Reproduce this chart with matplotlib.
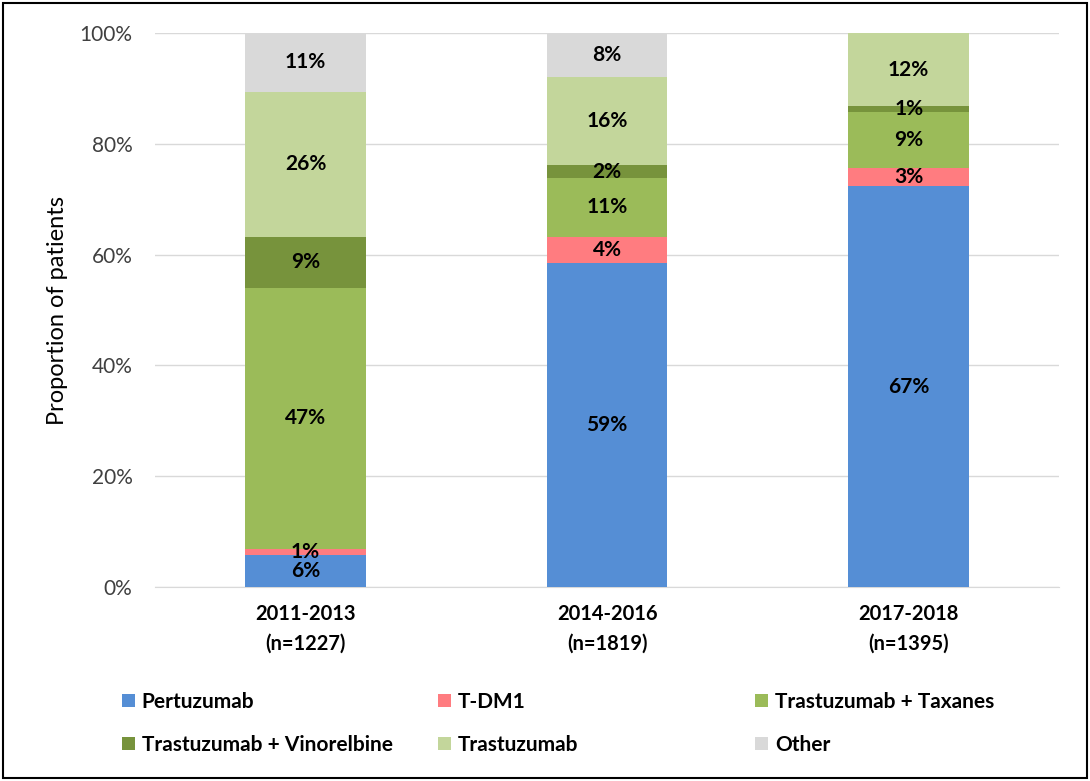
import matplotlib.pyplot as plt
from matplotlib.patches import Rectangle
from matplotlib.ticker import PercentFormatter

plt.rcParams['font.family'] = ['Lato', 'DejaVu Sans']

periods = ['2011-2013\n(n=1227)', '2014-2016\n(n=1819)', '2017-2018\n(n=1395)']
treatments = ['Pertuzumab', 'T-DM1', 'Trastuzumab + Taxanes',
              'Trastuzumab + Vinorelbine', 'Trastuzumab', 'Other']
colors = ['#558ED5', '#FF7C80', '#9BBB59', '#77933C', '#C3D69B', '#D9D9D9']

# segment heights (%) as drawn, per treatment, per period
heights = {
    'Pertuzumab':                [5.7, 58.5, 72.3],
    'T-DM1':                     [1.2, 4.7, 3.4],
    'Trastuzumab + Taxanes':     [47.1, 10.7, 10.1],
    'Trastuzumab + Vinorelbine': [9.2, 2.2, 1.0],
    'Trastuzumab':               [26.2, 15.9, 13.2],
    'Other':                     [10.6, 8.0, 0.0],
}
# printed data labels
labels = {
    'Pertuzumab':                ['6%', '59%', '67%'],
    'T-DM1':                     ['1%', '4%', '3%'],
    'Trastuzumab + Taxanes':     ['47%', '11%', '9%'],
    'Trastuzumab + Vinorelbine': ['9%', '2%', '1%'],
    'Trastuzumab':               ['26%', '16%', '12%'],
    'Other':                     ['11%', '8%', ''],
}

fig = plt.figure(figsize=(10.9, 7.81), dpi=100)
ax = fig.add_axes([0.142, 0.2484, 0.83, 0.7093])

x = range(len(periods))
bottoms = [0.0] * len(periods)
handles = []
for name, color in zip(treatments, colors):
    vals = heights[name]
    bars = ax.bar(x, vals, width=0.4, bottom=bottoms, color=color, label=name, zorder=3)
    handles.append(bars)
    for i, b in enumerate(bars):
        if labels[name][i]:
            ax.text(b.get_x() + b.get_width() / 2, bottoms[i] + vals[i] / 2,
                    labels[name][i], ha='center', va='center',
                    fontsize=15, fontweight='bold', color='black', zorder=4)
    bottoms = [bt + v for bt, v in zip(bottoms, vals)]

ax.set_ylim(0, 100)
ax.set_xlim(-0.5, 2.5)
ax.set_yticks(range(0, 101, 20))
ax.yaxis.set_major_formatter(PercentFormatter(decimals=0))
ax.yaxis.grid(True, color='#D9D9D9', linewidth=1, zorder=0)
ax.set_xticks(list(x))
ax.set_xticklabels(periods, fontsize=14.5, fontweight='bold', linespacing=1.65)
ax.tick_params(axis='y', labelsize=15, labelcolor='#404040', length=0, pad=16)
ax.tick_params(axis='x', length=0, pad=12)
ax.set_ylabel('Proportion of patients', fontsize=17, labelpad=8)
for s in ['top', 'right', 'left']:
    ax.spines[s].set_visible(False)
ax.spines['bottom'].set_color('#D9D9D9')

# legend laid out row by row, three columns
col_x = [0.112, 0.402, 0.693]
for c in range(3):
    pair = [handles[c], handles[c + 3]]
    names = [treatments[c], treatments[c + 3]]
    fig.legend(pair, names, loc='center left', bbox_to_anchor=(col_x[c], 0.074),
               frameon=False, prop={'weight': 'bold', 'size': 15},
               handlelength=0.6, handleheight=0.6, handletextpad=0.35,
               labelspacing=1.1, borderpad=0, borderaxespad=0)

fig.patches.append(Rectangle((0.003, 0.004), 0.994, 0.992, transform=fig.transFigure,
                             fill=False, edgecolor='black', linewidth=1.5))

fig.savefig('out.png', dpi=100)
